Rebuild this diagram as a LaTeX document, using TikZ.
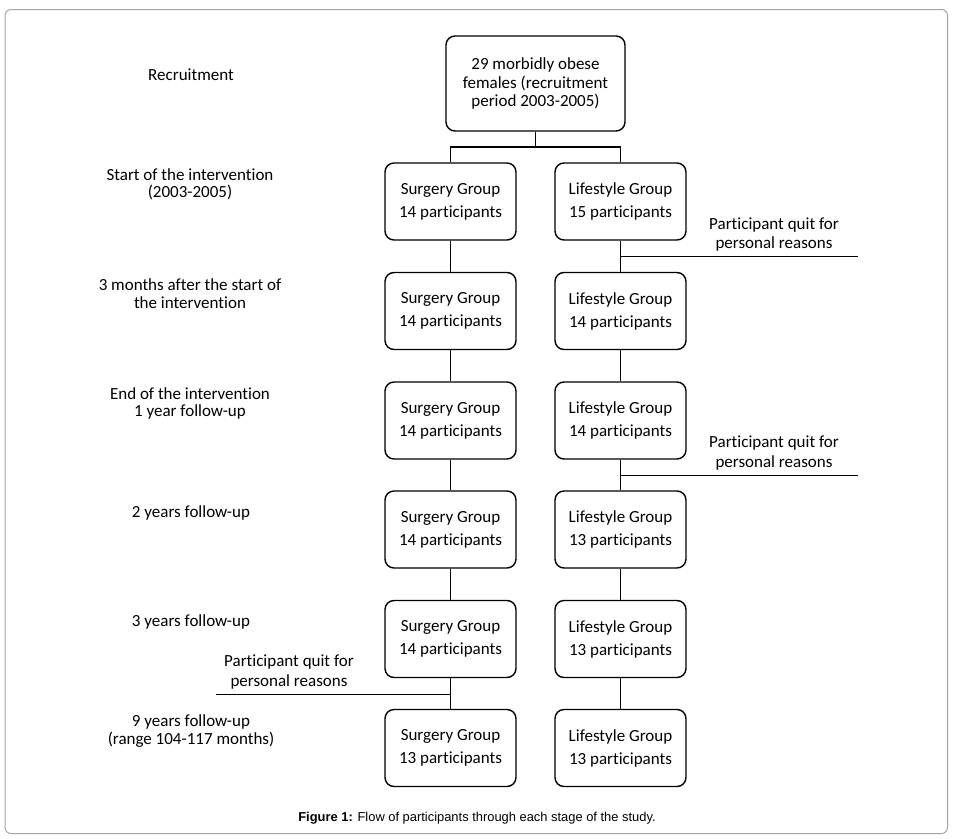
\documentclass[tikz,border=0pt]{standalone}
\usepackage{fontspec}
\setmainfont[Ligatures=NoCommon]{Carlito}
\newfontfamily\capfont{Liberation Sans}
\begin{document}
\begin{tikzpicture}[x=1pt,y=-1pt,
  box/.style={draw=black,line width=1.4pt,rounded corners=9pt,minimum width=131pt,minimum height=77pt,align=center,inner sep=0pt,font=\fontsize{17}{23}\selectfont},
  topbox/.style={box,minimum width=179pt,minimum height=95pt,font=\fontsize{17}{18.5}\selectfont},
  lab/.style={align=center,inner sep=0pt,font=\fontsize{17}{17.5}\selectfont},
  note/.style={align=center,inner sep=0pt,font=\fontsize{17}{19.5}\selectfont},
  link/.style={line width=1.3pt},
  qline/.style={line width=1pt}]
\useasboundingbox (0,0) rectangle (953,838);
\draw[gray!70,line width=1pt,rounded corners=6pt] (5,9.5) rectangle (947.5,833.5);

\node[topbox] (top) at (535.5,83.5) {29 morbidly obese\\females (recruitment\\period 2003-2005)};

\node[box] (s1) at (450.5,201.5) {Surgery Group\\14 participants};
\node[box] (l1) at (620.5,201.5) {Lifestyle Group\\15 participants};
\node[box] (s2) at (450.5,311) {Surgery Group\\14 participants};
\node[box] (l2) at (620.5,311) {Lifestyle Group\\14 participants};
\node[box] (s3) at (450.5,420.5) {Surgery Group\\14 participants};
\node[box] (l3) at (620.5,420.5) {Lifestyle Group\\14 participants};
\node[box] (s4) at (450.5,529.5) {Surgery Group\\14 participants};
\node[box] (l4) at (620.5,529.5) {Lifestyle Group\\13 participants};
\node[box] (s5) at (450.5,639) {Surgery Group\\14 participants};
\node[box] (l5) at (620.5,639) {Lifestyle Group\\13 participants};
\node[box] (s6) at (450.5,748) {Surgery Group\\13 participants};
\node[box] (l6) at (620.5,748) {Lifestyle Group\\13 participants};

\node[lab] (r0) at (191,75) {Recruitment};
\node[lab] (r1) at (190,184.5) {Start of the intervention\\(2003-2005)};
\node[lab] (r2) at (190,293.5) {3 months after the start of\\the intervention};
\node[lab] (r3) at (190,403.5) {End of the intervention\\1 year follow-up};
\node[lab] (r4) at (191,513) {2 years follow-up};
\node[lab] (r5) at (191,622) {3 years follow-up};
\node[lab] (r6) at (191,731) {9 years follow-up\\(range 104-117 months)};

\coordinate (br) at (535.5,147);
\draw[link] (top.south) -- (br);
\draw[link] (s1.north) |- (br) -| (l1.north);
\foreach \a/\b in {s1/s2,s2/s3,s3/s4,s4/s5,s5/s6,l1/l2,l2/l3,l3/l4,l4/l5,l5/l6}
  \draw[link] (\a.south) -- (\b.north);

\coordinate (q1a) at (620.5,256);
\coordinate (q1b) at (858,256);
\draw[qline] (q1a) -- (q1b);
\node[note] (n1) at (774,234.5) {Participant quit for\\personal reasons};

\coordinate (q2a) at (620.5,475);
\coordinate (q2b) at (858,475);
\draw[qline] (q2a) -- (q2b);
\node[note] (n2) at (774,453) {Participant quit for\\personal reasons};

\coordinate (q3a) at (216,694);
\coordinate (q3b) at (450.5,694);
\draw[qline] (q3a) -- (q3b);
\node[note] (n3) at (289,672) {Participant quit for\\personal reasons};

\node[font=\capfont\fontsize{12.9}{14}\selectfont,inner sep=0pt] (cap) at (477,818) {\textbf{Figure 1:} Flow of participants through each stage of the study.};
\end{tikzpicture}
\end{document}
